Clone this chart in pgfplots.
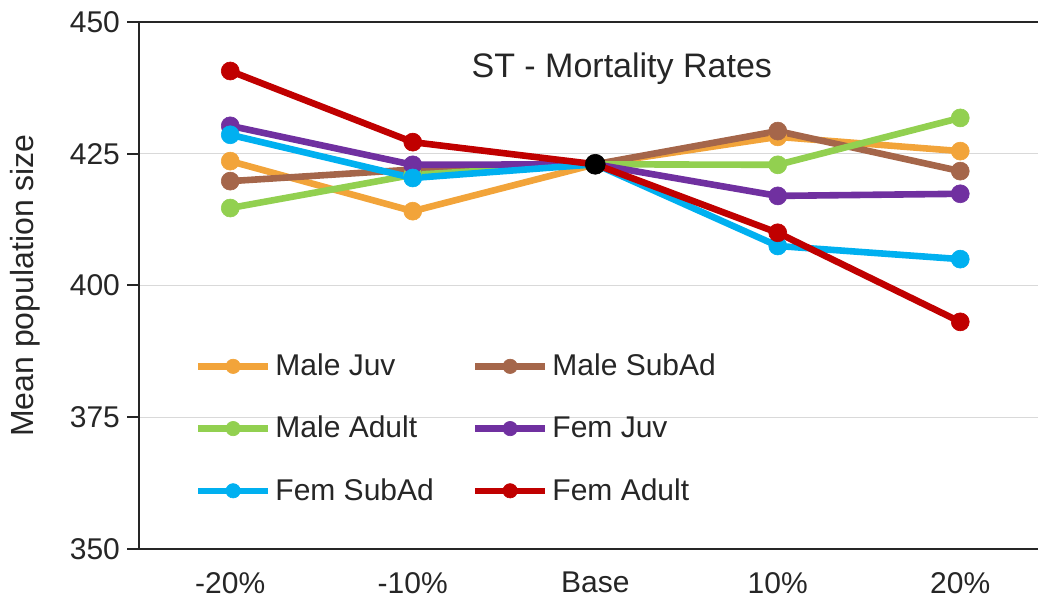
\documentclass[border=0pt]{standalone}
\usepackage{fontspec}
\setmainfont{Liberation Sans}
\usepackage{pgfplots}
\pgfplotsset{compat=1.18}
\definecolor{cMJ}{HTML}{F2A43A}
\definecolor{cMS}{HTML}{A5664A}
\definecolor{cMA}{HTML}{92D050}
\definecolor{cFJ}{HTML}{7030A0}
\definecolor{cFS}{HTML}{00B0F0}
\definecolor{cFA}{HTML}{C00000}
\definecolor{txt}{HTML}{262626}
\begin{document}
\begin{tikzpicture}
\begin{axis}[
  scale only axis, width=449.5pt, height=263.5pt,
  xmin=-0.5, xmax=4.426, ymin=350, ymax=450,
  xtick={0,1,2,3,4}, xticklabels={-20\%,-10\%,Base,10\%,20\%},
  ytick={350,375,400,425},
  extra y ticks={450},
  extra y tick style={grid=major, major grid style={txt, line width=1pt}},
  /pgf/number format/assume math mode=true,
  axis x line*=bottom, axis y line*=left,
  axis line style={-, txt, line width=1pt},
  tick align=outside, major tick length=6pt,
  ytick style={txt, line width=1pt},
  xtick style={draw=none},
  ymajorgrids, grid style={gray!30, line width=0.7pt},
  tick label style={font=\fontsize{15}{18}\selectfont, text=txt},
  xticklabel style={yshift=-2pt},
  ylabel={Mean population size},
  ylabel style={at={(axis description cs:-0.127,0.5)}, anchor=center, font=\fontsize{16}{19}\selectfont, text=txt},
  every axis plot/.append style={line width=3.3pt, mark=*, mark size=4.5pt, mark options={solid, line width=0.3pt}},
  legend columns=2,
  legend style={draw=none, fill=none, at={(axis description cs:0.055,0.386)}, anchor=north west,
    font=\fontsize{15}{18}\selectfont, text=txt, row sep=14.75pt,
    nodes={inner xsep=2pt},
    /tikz/every even column/.append style={column sep=17pt},
    /tikz/every odd column/.append style={column sep=0pt}},
  legend cell align=left,
  legend image code/.code={\draw[mark repeat=2,mark phase=2,mark size=3.6pt] plot coordinates {(0pt,0pt) (17.5pt,0pt) (35pt,0pt)};},
]
\addplot[cMJ] coordinates {(0,423.6) (1,414.1) (2,423) (3,428.2) (4,425.5)};
\addlegendentry{Male Juv}
\addplot[cMS] coordinates {(0,419.8) (1,422.0) (2,423) (3,429.3) (4,421.7)};
\addlegendentry{Male SubAd}
\addplot[cMA] coordinates {(0,414.7) (1,421.0) (2,423) (3,422.9) (4,431.8)};
\addlegendentry{Male Adult}
\addplot[cFJ] coordinates {(0,430.3) (1,422.9) (2,423) (3,417.0) (4,417.4)};
\addlegendentry{Fem Juv}
\addplot[cFS] coordinates {(0,428.6) (1,420.4) (2,423) (3,407.5) (4,405.0)};
\addlegendentry{Fem SubAd}
\addplot[cFA] coordinates {(0,440.7) (1,427.2) (2,423) (3,410.0) (4,393.1)};
\addlegendentry{Fem Adult}
\addplot[forget plot, only marks, mark=*, mark size=5pt, black] coordinates {(2,423)};
\node[font=\fontsize{17}{20}\selectfont, text=txt] at (rel axis cs:0.537,0.912) {ST - Mortality Rates};
\end{axis}
\pgfresetboundingbox
\path (-69.5pt,-27pt) rectangle (449.5pt,274.5pt);
\end{tikzpicture}
\end{document}
